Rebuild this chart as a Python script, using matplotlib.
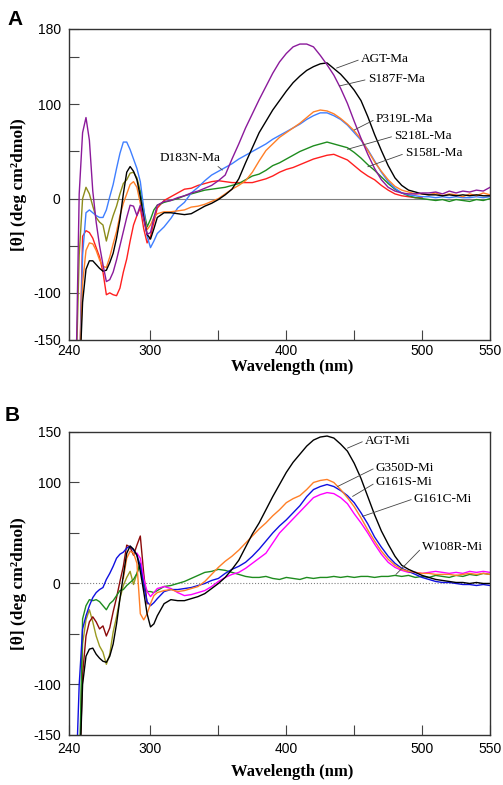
import numpy as np
import matplotlib
matplotlib.use("Agg")
import matplotlib.pyplot as plt

nan = np.nan

# wavelength grid (nm), shared by every curve
wl = [243, 245, 247.5, 250, 252.5, 255, 257.5, 260, 262.5, 265, 267.5, 270,
      272.5, 275, 277.5, 280, 282.5, 285, 287.5, 290, 292.5, 295, 297.5, 300,
      302.5, 305] + list(range(310, 551, 5))

# ---------------- panel A (Ma) ----------------
agt_ma = [nan, nan, -200, -110, -75, -66, -66, -70, -74, -77, -76, -68,
          -58, -42, -22, 5, 28, 34, 29, 20, 2, -20, -38, -43,
          -32, -20,
          -15, -15, -16, -17, -16, -12, -8, -5, -1, 4, 10, 21, 38, 54, 70, 82,
          94, 104, 114, 123, 130, 136, 140, 143, 144, 138, 132, 124, 115, 104,
          87, 68, 51, 35, 22, 14, 9, 7, 5, 4, 4, 3, 4, 3, 4, 3, 4, 3, 3]
s187f_ma = [nan, -200, 5, 70, 86, 62, 8, -25, -50, -70, -88, -86,
            -78, -65, -50, -35, -20, -7, -8, -18, -7, -22, -38, -36,
            -20, -7,
            -3, -2, 1, 3, 6, 8, 11, 14, 19, 25, 42, 58, 75, 90, 105, 119,
            133, 145, 154, 161, 164, 164, 161, 152, 142, 131, 117, 101, 82, 64,
            47, 32, 20, 12, 8, 6, 5, 5, 6, 6, 7, 5, 8, 6, 8, 7, 9, 8, 12]
d183n_ma = [nan, nan, -200, -60, -15, -12, -15, -18, -20, -20, -12, 2,
            15, 32, 48, 60, 60, 52, 42, 32, 18, -10, -40, -52,
            -45, -37,
            -30, -21, -10, -4, 6, 12, 19, 25, 29, 33, 37, 42, 46, 50, 54, 58,
            63, 67, 71, 75, 79, 84, 88, 91, 91, 88, 84, 78, 70, 62,
            52, 40, 28, 18, 11, 6, 4, 3, 2, 2, 1, 2, 1, 2, 1, 1, 2, 1, 2]
p319l_ma = [nan, nan, -200, -90, -55, -47, -48, -55, -65, -72, -73, -62,
            -48, -35, -18, -5, 5, 15, 18, 12, -5, -20, -33, -28,
            -20, -16,
            -14, -14, -13, -12, -9, -8, -6, -3, 0, 5, 10, 14, 19, 28, 40, 51,
            58, 65, 70, 75, 80, 86, 92, 94, 93, 90, 85, 79, 72, 63,
            51, 39, 29, 20, 13, 9, 7, 5, 5, 4, 6, 3, 5, 4, 2, 5, 3, 6, 4]
s218l_ma = [nan, nan, nan, nan, nan, nan, nan, nan, nan, nan, nan, nan,
            nan, nan, nan, nan, nan, nan, nan, nan, 8, -12, -30, -22,
            -12, -7,
            -4, -2, 0, 3, 5, 7, 9, 10, 11, 12, 14, 16, 20, 24, 26, 30,
            35, 38, 42, 46, 50, 53, 56, 58, 60, 58, 56, 54, 49, 43,
            36, 30, 23, 16, 10, 6, 3, 1, 0, -1, -2, -1, -3, -1, -2, -3, -1, -2, 0]
olive_ma = [nan, -200, -60, 0, 12, 5, -8, -20, -25, -28, -45, -30,
            -18, -8, 5, 16, 20, 27, 28, 22, 8] + [nan] * 54
s158l_ma = [nan, nan, -200, -40, -34, -36, -42, -52, -62, -78, -102, -100,
            -102, -103, -95, -78, -64, -45, -28, -18, -10, -32, -47, -40,
            -25, -10,
            -2, 2, 6, 10, 11, 14, 16, 18, 19, 18, 17, 17, 17, 17, 19, 21,
            24, 28, 31, 33, 36, 39, 42, 44, 46, 47, 44, 41, 35, 29,
            24, 20, 14, 9, 5, 3, 2, 1, 1] + [nan] * 10

# ---------------- panel B (Mi) ----------------
agt_mi = [nan, nan, -200, -100, -72, -65, -64, -70, -74, -77, -78, -72,
          -60, -40, -15, 8, 30, 37, 34, 28, 12, -8, -30, -43,
          -40, -32,
          -20, -16, -17, -17, -15, -13, -10, -5, 0, 6, 14, 23, 36, 49, 60, 73,
          86, 98, 110, 120, 128, 136, 142, 145, 146, 144, 138, 131, 119, 104,
          86, 68, 52, 39, 27, 18, 14, 11, 8, 6, 4, 3, 2, 1, 1, 0, 1, 0, 0]
g350d_mi = [nan, nan, nan, nan, nan, nan, nan, nan, nan, nan, nan, nan,
            nan, nan, nan, 5, 25, 32, 30, 20, -30, -36, -30, -20,
            -12, -9,
            -7, -6, -8, -7, -5, -3, 2, 9, 16, 22, 27, 33, 40, 47, 54, 60,
            67, 73, 80, 84, 87, 93, 100, 102, 103, 100, 93, 85, 76, 65,
            53, 42, 32, 24, 18, 14, 12, 11, 10, 10, 9, 9, 9, 8, 9, 10, 9, 10, 9]
g161s_mi = [nan, -200, -100, -45, -32, -22, -14, -9, -6, -4, 4, 10,
            17, 25, 29, 31, 35, 37, 33, 28, 18, -2, -18, -22,
            -19, -15,
            -8, -6, -6, -5, -4, -2, 0, 3, 5, 10, 14, 17, 21, 27, 34, 42,
            50, 57, 63, 70, 77, 86, 93, 96, 98, 96, 92, 87, 80, 70,
            59, 46, 36, 27, 20, 15, 12, 9, 6, 4, 2, 1, 1, 0, -1, -1, -2, -1, -2]
g161c_mi = [nan, nan, nan, nan, nan, nan, nan, nan, nan, nan, nan, nan,
            nan, nan, nan, nan, nan, nan, nan, 30, 25, 5, -8, -13,
            -9, -5,
            -3, -5, -9, -12, -11, -9, -7, -3, 2, 6, 9, 11, 15, 20, 25, 30,
            40, 50, 57, 64, 71, 78, 85, 88, 90, 89, 85, 79, 69, 60,
            50, 39, 29, 21, 16, 13, 11, 11, 10, 11, 12, 11, 10, 11, 10, 12, 11, 12, 11]
w108r_mi = [nan, nan, -200, -35, -22, -16, -17, -16, -18, -22, -26, -20,
            -17, -12, -7, -6, -2, 1, 4, 10, 20, 0, -8, -8,
            -9, -7,
            -3, -2, 0, 2, 5, 8, 11, 12, 14, 13, 11, 9, 7, 6, 6, 7,
            5, 4, 6, 5, 4, 6, 5, 6, 6, 7, 6, 7, 6, 7,
            7, 6, 7, 7, 8, 7, 8, 6, 7, 6, 8, 7, 6, 8, 7, 9, 8, 10, 9]
darkred_mi = [nan, nan, -200, -90, -52, -38, -33, -38, -45, -42, -52, -44,
              -28, -14, 2, 17, 38, 36, 28, 38, 47, 10, -20] + [nan] * 52
olive_mi = [nan, nan, -200, -60, -36, -26, -38, -52, -62, -68, -80, -70,
            -48, -33, -15, -2, 6, 12, -1, 10, 20, -5] + [nan] * 53

panel_a = [
    (olive_ma, "#8c8c1a"), (s158l_ma, "#ff1f1f"), (s218l_ma, "#1e8c1e"),
    (d183n_ma, "#3f7fff"), (p319l_ma, "#ff7f27"), (agt_ma, "black"),
    (s187f_ma, "#8b1a9b"),
]
panel_b = [
    (olive_mi, "#9a9a20"), (darkred_mi, "#8b0a0a"), (w108r_mi, "#1e8c1e"),
    (g161c_mi, "#ff00ff"), (g161s_mi, "#1010e0"), (g350d_mi, "#ff7f27"),
    (agt_mi, "black"),
]

labels_a = [("AGT-Ma", 455, 148, 437, 138.5),
            ("S187F-Ma", 460, 126.6, 439, 119.5),
            ("P319L-Ma", 466, 84.5, 450, 72.8),
            ("S218L-Ma", 479.5, 66.4, 445, 52.3),
            ("S158L-Ma", 487.5, 48, 460, 33.8)]
labels_b = [("AGT-Mi", 458, 141.5, 445, 134),
            ("G350D-Mi", 466, 114.8, 437.7, 96),
            ("G161S-Mi", 466, 100, 448.8, 86.2),
            ("G161C-Mi", 494, 84, 456, 66.4),
            ("W108R-Mi", 500.2, 35.8, 480.7, 8.9)]

SERIF = "Liberation Serif"
SANS = "Liberation Sans"

fig = plt.figure(figsize=(5.03, 7.85), dpi=100)
ax_a = fig.add_axes([0.1372, 0.5669, 0.837, 0.3962])
ax_b = fig.add_axes([0.1372, 0.0637, 0.837, 0.386])


def style(ax, ymax, yticks, ylabels, zero_ls, xpad, xlab_y):
    ax.axhline(0, color="#808080", lw=0.8, ls=zero_ls, zorder=0)
    ax.set_xlim(240, 550)
    ax.set_ylim(-150, ymax)
    ax.set_xticks([240, 300, 400, 500, 550])
    ax.set_xticks([350, 450], minor=True)
    ax.set_xticklabels(["240", "300", "400", "500", "550"], family=SANS, fontsize=10)
    ax.set_yticks(yticks)
    ax.set_yticklabels(ylabels, family=SANS, fontsize=10)
    ax.tick_params(axis="both", which="both", direction="in", length=7,
                   width=0.8, color="#444444")
    ax.tick_params(axis="y", pad=6)
    ax.tick_params(axis="x", pad=xpad)
    for sp in ax.spines.values():
        sp.set_linewidth(1.0)
        sp.set_color("#333333")
    ax.set_xlabel("Wavelength (nm)", family=SERIF, fontweight="bold",
                  fontsize=12)
    ax.xaxis.set_label_coords(0.53, xlab_y)
    ax.set_ylabel("[θ] (deg cm²dmol)", family=SERIF, fontweight="bold",
                  fontsize=12.5, labelpad=4)


for vals, c in panel_a:
    ax_a.plot(wl, vals, color=c, lw=1.0)
for vals, c in panel_b:
    ax_b.plot(wl, vals, color=c, lw=1.0)

style(ax_a, 180, [-150, -100, -50, 0, 50, 100, 150, 180],
      ["-150", "-100", "", "0", "", "100", "", "180"], "-", 3, -0.06)
style(ax_b, 150, [-150, -100, -50, 0, 50, 100, 150],
      ["-150", "-100", "", "0", "", "100", "150"], ":", 5, -0.097)

arrow = dict(arrowstyle="-", lw=0.6, color="#444444", shrinkA=0, shrinkB=0,
             relpos=(0, 0.5))
for ax, labels in [(ax_a, labels_a), (ax_b, labels_b)]:
    for txt, tx, ty, px, py in labels:
        ax.annotate(txt, xy=(px, py), xytext=(tx, ty), ha="left", va="center",
                    family=SERIF, fontsize=9.5, arrowprops=arrow)

ax_a.annotate("D183N-Ma", xy=(353, 30.3), xytext=(306.7, 43.4), ha="left",
              va="center", family=SERIF, fontsize=9.5,
              arrowprops=dict(arrow, relpos=(0.9, 0.0)))

fig.text(0.014, 0.987, "A", family=SANS, fontweight="bold", fontsize=15,
         va="top", ha="left")
fig.text(0.010, 0.483, "B", family=SANS, fontweight="bold", fontsize=15,
         va="top", ha="left")

fig.savefig("out.png", dpi=100)
